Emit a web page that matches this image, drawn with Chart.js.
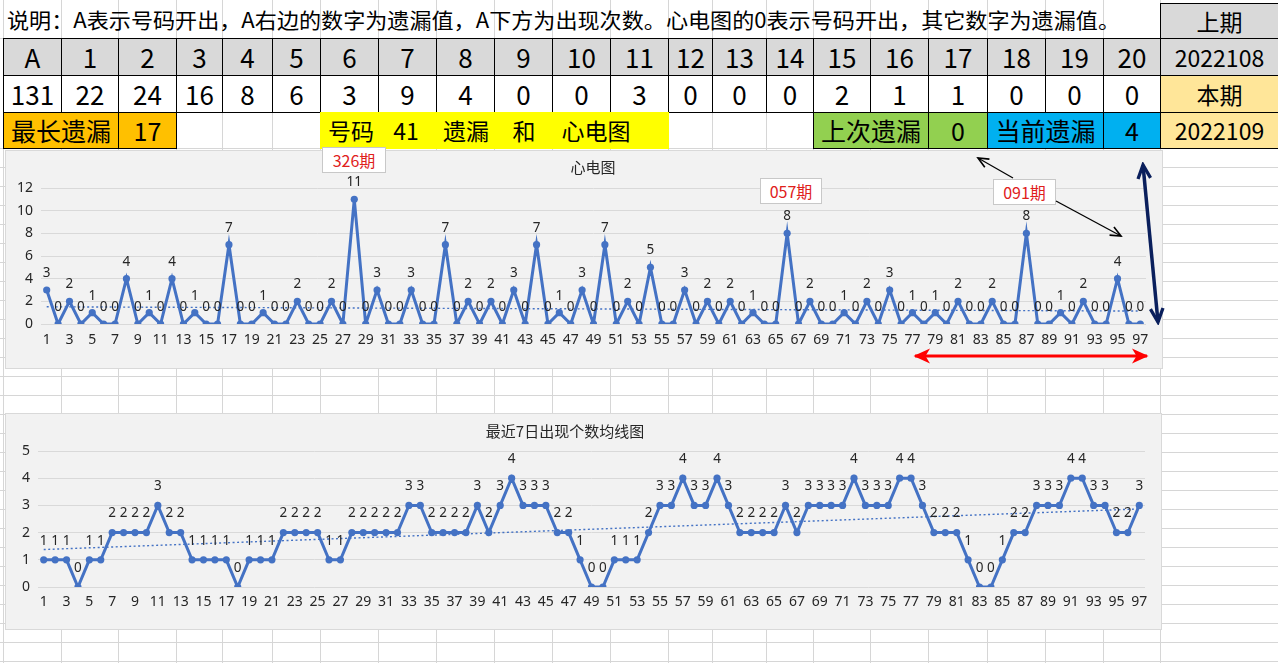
<!DOCTYPE html>
<html><head><meta charset="utf-8">
<script src="https://cdn.jsdelivr.net/npm/chart.js@4.4.1/dist/chart.umd.min.js"></script>
<style>
body{margin:0;width:1278px;height:663px;overflow:hidden;background:#fff;font-family:"Noto Sans CJK SC","Noto Sans",sans-serif;position:relative}
.c{position:absolute;box-sizing:border-box;display:flex;align-items:center;justify-content:center;white-space:pre;color:#000;line-height:1}
.g{position:absolute;background:#d6d6d6}
.box{position:absolute;box-sizing:border-box;background:#fff;border:1px solid #c8c8c8;color:#e0201b;font-size:16px;display:flex;align-items:center;justify-content:center}
.ttl{position:absolute;font-size:15px;color:#262626;transform:translateX(-50%);white-space:nowrap}
.chartbox{position:absolute;box-sizing:border-box;background:#f2f2f2;border:1px solid #d9d9d9}
</style></head><body>
<div id="grid"></div>
<div id="table"></div>
<div class="chartbox" style="left:5px;top:150px;width:1158px;height:219px"><canvas id="c1" width="1156" height="217"></canvas></div>
<div class="chartbox" style="left:5px;top:413px;width:1157px;height:217px"><canvas id="c2" width="1155" height="215"></canvas></div>
<div class="ttl" style="left:593px;top:156px">心电图</div>
<div class="ttl" style="left:565px;top:420px">最近7日出现个数均线图</div>
<div class="box" style="left:322px;top:147px;width:64px;height:26px">326期</div>
<div class="box" style="left:760px;top:178px;width:62px;height:26px">057期</div>
<div class="box" style="left:993px;top:179px;width:63px;height:26px">091期</div>
<svg style="position:absolute;left:0;top:0" width="1278" height="663">
<defs>
<marker id="mb" markerUnits="userSpaceOnUse" markerWidth="14" markerHeight="14" refX="10" refY="5" viewBox="0 0 12 10" orient="auto-start-reverse"><path d="M1,1 L10,5 L1,9" fill="none" stroke="#000" stroke-width="1.4"/></marker>
<marker id="mn" markerUnits="userSpaceOnUse" markerWidth="18" markerHeight="18" refX="10" refY="5" viewBox="0 0 12 10" orient="auto-start-reverse"><path d="M1,0.8 L10,5 L1,9.2" fill="none" stroke="#0a1f5c" stroke-width="2.2"/></marker>
<marker id="mr" markerUnits="userSpaceOnUse" markerWidth="18" markerHeight="18" refX="10" refY="5" viewBox="0 0 12 10" orient="auto-start-reverse"><path d="M0,0 L11,5 L0,10 L3,5 Z" fill="#ff0000"/></marker>
</defs>
<line x1="1013" y1="178" x2="978" y2="158" stroke="#000" stroke-width="1.3" marker-end="url(#mb)"/>
<line x1="1056" y1="201" x2="1121" y2="236" stroke="#000" stroke-width="1.3" marker-end="url(#mb)"/>
<line x1="1143" y1="165" x2="1158" y2="322" stroke="#0a1f5c" stroke-width="3.5" marker-start="url(#mn)" marker-end="url(#mn)"/>
<line x1="915" y1="356" x2="1147" y2="356" stroke="#ff0000" stroke-width="3" marker-start="url(#mr)" marker-end="url(#mr)"/>
</svg>
<script>
// ---------- data ----------
const numbers = ['A','1','2','3','4','5','6','7','8','9','10','11','12','13','14','15','16','17','18','19','20'];
const counts = [131,22,24,16,8,6,3,9,4,0,0,3,0,0,0,2,1,1,0,0,0];
const lastIssue = '2022108';
const curIssue = '2022109';
const maxMiss = 17;
const prevMiss = 0;
const curMiss = 4;
const periods = [1,2,3,4,5,6,7,8,9,10,11,12,13,14,15,16,17,18,19,20,21,22,23,24,25,26,27,28,29,30,31,32,33,34,35,36,37,38,39,40,41,42,43,44,45,46,47,48,49,50,51,52,53,54,55,56,57,58,59,60,61,62,63,64,65,66,67,68,69,70,71,72,73,74,75,76,77,78,79,80,81,82,83,84,85,86,87,88,89,90,91,92,93,94,95,96,97];
const ecg = [3,0,2,0,1,0,0,4,0,1,0,4,0,1,0,0,7,0,0,1,0,0,2,0,0,2,0,11,0,3,0,0,3,0,0,7,0,2,0,2,0,3,0,7,0,1,0,3,0,7,0,2,0,5,0,0,3,0,2,0,2,0,1,0,0,8,0,2,0,0,1,0,2,0,3,0,1,0,1,0,2,0,0,2,0,0,8,0,0,1,0,2,0,0,4,0,0];
const avg7 = [1,1,1,0,1,1,2,2,2,2,3,2,2,1,1,1,1,0,1,1,1,2,2,2,2,1,1,2,2,2,2,2,3,3,2,2,2,2,3,2,3,4,3,3,3,2,2,1,0,0,1,1,1,2,3,3,4,3,3,4,3,2,2,2,2,3,2,3,3,3,3,4,3,3,3,4,4,3,2,2,2,1,0,0,1,2,2,3,3,3,4,4,3,3,2,2,3];
const ecgTicks = [0,2,4,6,8,10,12];
const avgTicks = [0,1,2,3,4,5];

// ---------- spreadsheet grid ----------
const colX = [3,61,118,176,222,272,320,378,436,494,552,610,668,712,766,813,870,928,987,1045,1103,1160,1278];
const grid = document.getElementById('grid');
function gl(x,y,w,h,c){const d=document.createElement('div');d.className='g';d.style.cssText=`left:${x}px;top:${y}px;width:${w}px;height:${h}px`+(c?`;background:${c}`:'');grid.appendChild(d);}
colX.forEach(x=>gl(x,0,1,663));
gl(0,38,1278,1);
for(let y=148;y<663;y+=19) gl(0,y,1278,1);

// ---------- table ----------
const tb = document.getElementById('table');
function cell(x1,y1,x2,y2,txt,opt){
  opt=opt||{};
  const d=document.createElement('div');d.className='c';
  d.style.left=x1+'px';d.style.top=y1+'px';d.style.width=(x2-x1+1)+'px';d.style.height=(y2-y1+1)+'px';
  if(opt.bg) d.style.background=opt.bg;
  if(opt.border!==false) d.style.border='1px solid #000';
  d.style.fontSize=(opt.fs||26)+'px';
  if(opt.just) d.style.justifyContent=opt.just;
  const s=document.createElement('span');s.textContent=txt;d.appendChild(s);
  tb.appendChild(d);return d;
}
// row 1
const note = cell(3,0,1160,38,'说明：A表示号码开出，A右边的数字为遗漏值，A下方为出现次数。心电图的0表示号码开出，其它数字为遗漏值。',{border:false,fs:21,just:'flex-start'});
note.style.paddingLeft='4px';
cell(1160,3,1278,38,'上期',{bg:'#d9d9d9',fs:23});
// row 2 & 3
for(let i=0;i<numbers.length;i++){
  cell(colX[i],38,colX[i+1],75,numbers[i],{bg:'#d9d9d9'});
  cell(colX[i],75,colX[i+1],112,String(counts[i]),{bg:'#fff'});
}
cell(1160,38,1278,75,lastIssue,{bg:'#d9d9d9',fs:23});
cell(1160,75,1278,112,'本期',{bg:'#ffe699',fs:23});
// row 4
cell(3,112,118,148,'最长遗漏',{bg:'#ffc000',fs:25});
cell(118,112,176,148,String(maxMiss),{bg:'#ffc000',fs:25});
const y4=cell(320,112,668,148,'',{bg:'#ffff00',border:false});
[['号码',351],['41',406],['遗漏',466],['和',524],['心电图',596]].forEach(([t,cx])=>{
  const s=document.createElement('div');s.className='c';s.style.cssText=`left:${cx-320-50}px;top:0;width:100px;height:36px;font-size:23px`;s.textContent=t;y4.appendChild(s);
});
cell(813,112,928,148,'上次遗漏',{bg:'#92d050',fs:25});
cell(928,112,987,148,String(prevMiss),{bg:'#92d050',fs:25});
cell(987,112,1103,148,'当前遗漏',{bg:'#00b0f0',fs:25});
cell(1103,112,1160,148,String(curMiss),{bg:'#00b0f0',fs:25});
cell(1160,112,1278,148,curIssue,{bg:'#ffe699',fs:23});
// fit explanation text
(function(){const s=note.firstChild;const w=s.getBoundingClientRect().width;s.style.display='inline-block';s.style.transformOrigin='left center';s.style.transform=`scaleX(${1113/w})`;})();

// ---------- charts ----------
function trend(arr){
  const n=arr.length;let sx=0,sy=0,sxx=0,sxy=0;
  arr.forEach((v,i)=>{const x=i+1;sx+=x;sy+=v;sxx+=x*x;sxy+=x*v;});
  const b=(n*sxy-sx*sy)/(n*sxx-sx*sx);const a=(sy-b*sx)/n;
  return arr.map((v,i)=>a+b*(i+1));
}
const ptLabels={id:'ptLabels',afterDatasetsDraw(chart,args,opts){
  const ctx=chart.ctx;const meta=chart.getDatasetMeta(0);const data=chart.data.datasets[0].data;
  ctx.save();ctx.font='13.5px "Noto Sans","Liberation Sans",sans-serif';ctx.fillStyle='#262626';ctx.textAlign='center';ctx.textBaseline='middle';
  meta.data.forEach((el,i)=>ctx.fillText(String(data[i]),el.x,el.y-opts.offset));
  ctx.restore();
}};
const tickFont={family:'"Noto Sans","Liberation Sans",sans-serif',size:14};
function makeChart(id,series,ticks,yW,pad,lblOff,xPad){
  const ymax=ticks[ticks.length-1];
  return new Chart(document.getElementById(id),{
    type:'line',
    data:{labels:periods,datasets:[
      {data:series,borderColor:'#4472C4',backgroundColor:'#4472C4',borderWidth:3,pointRadius:3.6,pointBorderWidth:0,pointBackgroundColor:'#4472C4',tension:0,order:1},
      {data:trend(series),borderColor:'#4472C4',borderWidth:1.4,borderDash:[2,2.5],pointRadius:0,tension:0,order:2}
    ]},
    options:{responsive:false,animation:false,devicePixelRatio:1,
      layout:{padding:pad},
      plugins:{legend:{display:false},tooltip:{enabled:false},title:{display:false},ptLabels:{offset:lblOff}},
      scales:{
        x:{offset:true,grid:{display:false,drawTicks:false},border:{display:false},
          ticks:{autoSkip:false,maxRotation:0,minRotation:0,padding:xPad,color:'#262626',font:tickFont,
            callback:(v,i)=> i%2===0 ? String(periods[i]) : ''},
          afterFit(s){s.height=30;}},
        y:{min:0,max:ymax,afterBuildTicks(s){s.ticks=ticks.map(v=>({value:v}));},
          grid:{color:'#d9d9d9',drawTicks:false},border:{display:false},
          ticks:{padding:8,color:'#262626',font:tickFont},
          afterFit(s){s.width=yW;}}
      }
    },
    plugins:[ptLabels]
  });
}
makeChart('c1',ecg,ecgTicks,35,{left:0,right:16,top:37,bottom:14},17,8);
makeChart('c2',avg7,avgTicks,32,{left:0,right:16,top:37,bottom:12},19,7);
</script>
</body></html>
